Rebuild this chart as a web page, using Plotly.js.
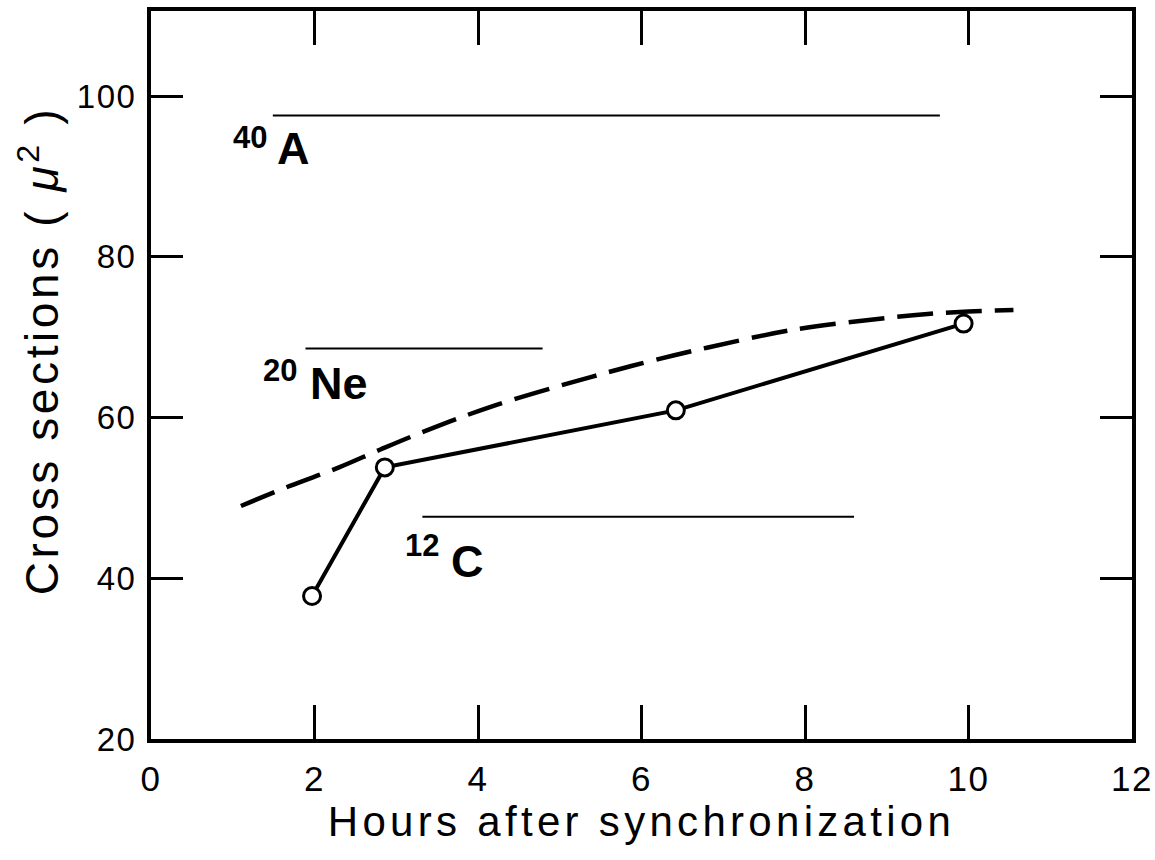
<!DOCTYPE html>
<html>
<head>
<meta charset="utf-8">
<script src="https://cdn.plot.ly/plotly-3.0.1.min.js"></script>
<style>
html,body{margin:0;padding:0;background:#fff}
#chart{width:1155px;height:860px}
#chart text.xtitle{letter-spacing:4.3px}
#chart g.annotation[data-index="6"] text{letter-spacing:3.6px}
#chart g.xtick text, #chart g.ytick text{letter-spacing:1.5px}
</style>
</head>
<body>
<div id="chart"></div>
<script>
// Measured cross sections (open circles, solid line)
const hoursMeasured = [1.97, 2.86, 6.42, 9.94];
const crossMeasured = [37.8, 53.8, 60.9, 71.7];

// Dashed curve
const hoursCurve = [1.1, 1.7, 2.3, 2.8, 3.3, 4.2, 5.4, 6.1, 6.8, 7.9, 9.0, 9.5, 10.0, 10.55];
const crossCurve = [49.0, 51.5, 53.8, 56.0, 58.1, 61.5, 65.1, 67.0, 68.7, 71.0, 72.4, 72.9, 73.2, 73.4];

// Reference levels for ions
const ionNames = ['A', 'Ne', 'C'];
const ionMass = ['40', '20', '12'];
const ionLevel = [97.6, 68.6, 47.65];
const ionStart = [1.49, 1.89, 3.32];
const ionEnd = [9.65, 4.79, 8.6];

const xTicks = [0, 2, 4, 6, 8, 10, 12];
const yTicks = [20, 40, 60, 80, 100];

const xTitle = 'Hours after synchronization';
const yTitle = 'Cross sections ( <i>μ</i><sup>2</sup> )';

const traces = [];
for (let i = 0; i < ionNames.length; i++) {
  traces.push({
    x: [ionStart[i], ionEnd[i]], y: [ionLevel[i], ionLevel[i]],
    mode: 'lines', line: {color: '#000', width: 2}, hoverinfo: 'skip', showlegend: false
  });
}
traces.push({
  x: hoursCurve, y: crossCurve, mode: 'lines',
  line: {color: '#000', width: 4.5, dash: '36px,13px', shape: 'spline'},
  showlegend: false
});
traces.push({
  x: hoursMeasured, y: crossMeasured, mode: 'lines+markers',
  line: {color: '#000', width: 4},
  marker: {symbol: 'circle', size: 17, color: '#fff', line: {color: '#000', width: 3}},
  showlegend: false
});

const fam = 'Liberation Sans, Arial, Helvetica, sans-serif';

// label placements (layout only)
const labelPos = [
  {mx: 1.431, my: 94.9, lx: 1.529, ly: 93.5},
  {mx: 1.798, my: 65.9, lx: 1.933, ly: 64.2},
  {mx: 3.535, my: 44.1, lx: 3.657, ly: 42.15}
];
const annotations = [];
for (let i = 0; i < ionNames.length; i++) {
  const p = labelPos[i];
  annotations.push({x: p.mx, y: p.my, xref: 'x', yref: 'y', xanchor: 'right', yanchor: 'middle',
    text: '<b>' + ionMass[i] + '</b>', showarrow: false, borderpad: 0,
    font: {family: fam, size: 31, color: '#000'}});
  annotations.push({x: p.lx, y: p.ly, xref: 'x', yref: 'y', xanchor: 'left', yanchor: 'middle',
    text: '<b>' + ionNames[i] + '</b>', showarrow: false, borderpad: 0,
    font: {family: fam, size: 45, color: '#000'}});
}
// y-axis title (index 6)
annotations.push({x: -0.114, y: 0.534, xref: 'paper', yref: 'paper', xanchor: 'center', yanchor: 'middle',
  text: yTitle, textangle: -90, showarrow: false, font: {family: fam, size: 46, color: '#000'}});

const layout = {
  width: 1155, height: 860,
  margin: {l: 151, r: 23, t: 11, b: 121},
  paper_bgcolor: '#fff', plot_bgcolor: '#fff',
  font: {family: fam, color: '#000'},
  showlegend: false,
  xaxis: {
    range: [0, 12], tickvals: xTicks, ticktext: xTicks.map(String),
    ticks: 'inside', ticklen: 34, tickwidth: 3, tickcolor: '#000',
    showline: true, linewidth: 4, linecolor: '#000', mirror: 'ticks',
    showgrid: false, zeroline: false,
    tickfont: {size: 35, family: fam, color: '#000'},
    ticklabelstandoff: 6,
    title: {text: xTitle, font: {size: 42, family: fam, color: '#000'}, standoff: 2}
  },
  yaxis: {
    range: [20, 110.6], tickvals: yTicks, ticktext: yTicks.map(String),
    ticks: 'inside', ticklen: 32, tickwidth: 3, tickcolor: '#000',
    showline: true, linewidth: 4, linecolor: '#000', mirror: 'ticks',
    showgrid: false, zeroline: false,
    tickfont: {size: 33, family: fam, color: '#000'},
    ticklabelstandoff: 4
  },
  annotations: annotations
};

Plotly.newPlot('chart', traces, layout, {displayModeBar: false, staticPlot: true});
</script>
</body>
</html>
